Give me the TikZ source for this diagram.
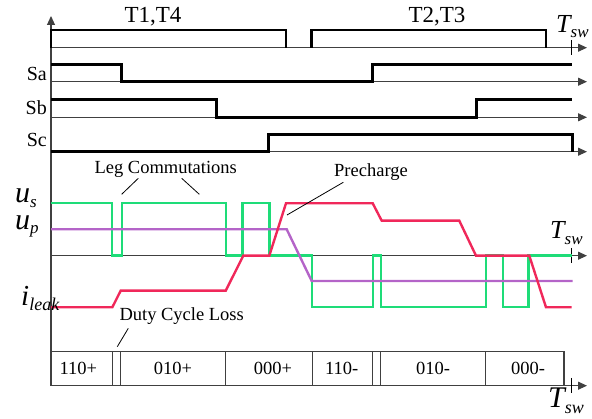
\documentclass[tikz,border=0pt]{standalone}
\usepackage{fontspec}
\setmainfont{Liberation Serif}
\usetikzlibrary{arrows.meta}

\definecolor{usgreen}{RGB}{30,220,120}
\definecolor{leakred}{RGB}{240,40,90}
\definecolor{uppurple}{RGB}{180,100,200}

\newcommand{\fsz}[1]{\fontsize{#1}{#1}\selectfont}
% italic symbol with a lowered subscript: size, base, sub size, sub, drop
\newcommand{\isub}[5]{{\fsz{#1}\itshape #2}{\fsz{#3}\itshape\raisebox{#5}{#4}}}

\begin{document}
\begin{tikzpicture}[x=1pt,y=-1pt,>={Triangle[length=9pt,width=8pt]},
                    axis/.style={line width=1.1pt,draw=black!75},
                    gate/.style={line width=2.6pt,line join=miter},
                    wave/.style={line width=2.4pt,line join=miter},
                    lead/.style={line width=0.8pt},
                    lbl/.style={inner sep=0pt,anchor=base,font=\fsz{18.5}},
                    sw/.style={inner sep=0pt,anchor=base west},
                    tick/.style={line width=1.3pt}]
  \useasboundingbox (0,0) rectangle (592,419);

  % vertical axis
  \coordinate (o)   at (51,386);
  \coordinate (top) at (51,16);
  \draw[axis,->] (o) -- (top);

  % gate signals T1,T4 / T2,T3
  \draw[axis,->] (51,47.7) -- (587,47.7);
  \draw[tick] (571.7,40) -- (571.7,55);
  \draw[gate] (51,47.7) -- (51,30) -- (286,30) -- (286,47.7);
  \draw[gate] (311.7,47.7) -- (311.7,30) -- (546,30) -- (546,47.7);
  \node[lbl,font=\fsz{23}] (t14) at (153,22.7) {T1,T4};
  \node[lbl,font=\fsz{23}] (t23) at (437,22.7) {T2,T3};
  \node[sw] (tsw1) at (556,33) {\isub{26}{T}{17}{sw}{-5pt}};

  % leg switching states
  \draw[axis,->] (51,81.7) -- (587,81.7);
  \draw[gate] (51,64.3) -- (121.7,64.3) -- (121.7,81.7) -- (372.7,81.7)
              -- (372.7,64.3) -- (571.7,64.3);
  \draw[axis,->] (51,117.3) -- (587,117.3);
  \draw[gate] (51,99.3) -- (216.7,99.3) -- (216.7,117.3) -- (476.7,117.3)
              -- (476.7,99.3) -- (571.7,99.3);
  \draw[axis,->] (51,151.7) -- (587,151.7);
  \draw[gate] (51,151.7) -- (268.3,151.7) -- (268.3,134.3) -- (572.7,134.3)
              -- (572.7,151.7);
  \node[lbl,font=\fsz{20},anchor=base east] (sa) at (47,81) {Sa};
  \node[lbl,font=\fsz{20},anchor=base east] (sb) at (47,115) {Sb};
  \node[lbl,font=\fsz{20},anchor=base east] (sc) at (47,147) {Sc};

  % voltages and leakage current
  \draw[axis,->] (51,255.7) -- (587,255.7);
  \draw[tick] (571.7,248) -- (571.7,263);
  \draw[wave,usgreen] (51,203.3) -- (111.7,203.3) -- (111.7,255.7) -- (122,255.7)
        -- (122,203.3) -- (225.7,203.3) -- (225.7,255.7) -- (242.3,255.7)
        -- (242.3,203.3) -- (269.3,203.3) -- (269.3,255.7) -- (311.7,255.7)
        -- (311.7,307.3) -- (372.7,307.3) -- (372.7,255.7) -- (380.7,255.7)
        -- (380.7,307.3) -- (486,307.3) -- (486,255.7) -- (502.7,255.7)
        -- (502.7,307.3) -- (528.3,307.3) -- (528.3,255.7) -- (571.7,255.7);
  \draw[wave,uppurple] (51,229.3) -- (286.7,229.3) -- (311.7,281) -- (572.7,281);
  \draw[wave,leakred] (51,307.3) -- (112.3,307.3) -- (120.7,290.7) -- (225.7,290.7)
        -- (243.3,255.7) -- (269.3,255.7) -- (286,203.3) -- (372.7,203.3)
        -- (381.7,220.7) -- (459.3,220.7) -- (476,255.7) -- (529.3,255.7)
        -- (546,307.3) -- (571.7,307.3);
  \node[sw] (us) at (15,203) {\isub{30}{u}{17}{s}{-5pt}};
  \node[sw] (up) at (15,230) {\isub{30}{u}{17}{p}{-4pt}};
  \node[sw] (il) at (21,306) {\isub{29}{i}{18}{leak}{-5pt}};
  \node[sw] (tsw2) at (550,238.5) {\isub{26}{T}{17}{sw}{-6pt}};

  % annotations
  \node[lbl] (leg) at (165.7,174) {Leg Commutations};
  \coordinate (leg1) at (121.7,194.3);
  \coordinate (leg2) at (199.3,194.3);
  \draw[lead] (138.3,178.3) -- (leg1);
  \draw[lead] (181.7,178.3) -- (leg2);
  \node[lbl] (pre) at (371,176.7) {Precharge};
  \coordinate (pre1) at (287,215);
  \draw[lead] (343.3,182.3) -- (pre1);
  \node[lbl] (dcl) at (181.7,320.7) {Duty Cycle Loss};
  \coordinate (dcl1) at (117.3,346.7);
  \draw[lead] (128.3,328.3) -- (dcl1);

  % switching state sequence
  \draw[axis,->] (51,385.7) -- (587,385.7);
  \draw[tick] (571.7,378) -- (571.7,393);
  \draw[axis] (51,351.7) -- (564,351.7) -- (564,385.7);
  \foreach \xd in {112.3,120.7,225.7,312.3,372.7,380.7,485.7}
    \draw[axis] (\xd,351.7) -- (\xd,385.7);
  \node[lbl] (s1) at (78.3,375)  {110+};
  \node[lbl] (s2) at (173,375)   {010+};
  \node[lbl] (s3) at (273,375)   {000+};
  \node[lbl] (s4) at (341.7,375) {110-};
  \node[lbl] (s5) at (433,375)   {010-};
  \node[lbl] (s6) at (528,375)   {000-};
  \node[sw] (tsw3) at (548,407.3) {\isub{30}{T}{18}{sw}{-6pt}};
\end{tikzpicture}
\end{document}
